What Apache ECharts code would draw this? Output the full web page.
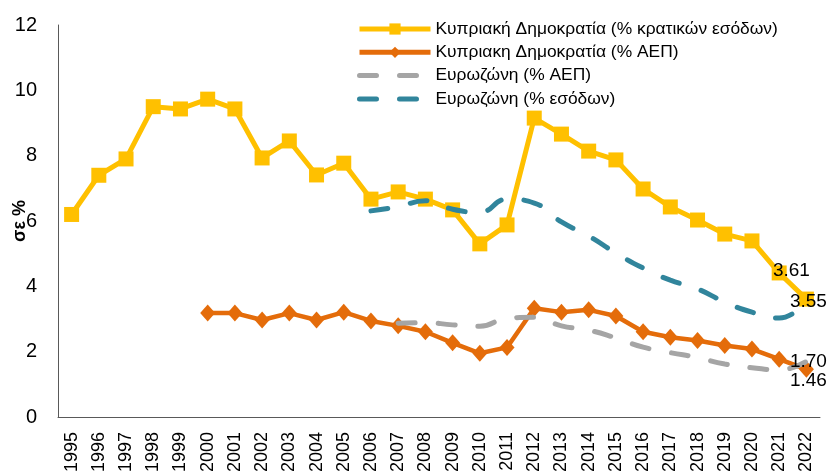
<!DOCTYPE html>
<html>
<head>
<meta charset="utf-8">
<script src="https://cdn.jsdelivr.net/npm/echarts@6/dist/echarts.min.js"></script>
<style>
  html, body { margin: 0; padding: 0; background: #fff; }
  #chart { width: 831px; height: 474px; }
</style>
</head>
<body>
<div id="chart"></div>
<script>
// years on the x axis
var years = ['1995','1996','1997','1998','1999','2000','2001','2002','2003','2004','2005','2006','2007','2008',
  '2009','2010','2011','2012','2013','2014','2015','2016','2017','2018','2019','2020','2021','2022'];

// Κυπριακή Δημοκρατία (% κρατικών εσόδων)
var cyRevenue = [6.2, 7.4, 7.9, 9.5, 9.43, 9.73, 9.43, 7.93, 8.45, 7.41, 7.77, 6.67, 6.89, 6.67,
  6.34, 5.3, 5.88, 9.15, 8.66, 8.14, 7.87, 6.98, 6.43, 6.03, 5.6, 5.39, 4.41, 3.61];
// Κυπριακη Δημοκρατία (% ΑΕΠ)
var cyGdp = [null, null, null, null, null, 3.18, 3.18, 2.97, 3.18, 2.97, 3.21, 2.94, 2.79, 2.61,
  2.27, 1.95, 2.13, 3.33, 3.21, 3.28, 3.09, 2.61, 2.44, 2.34, 2.19, 2.08, 1.77, 1.46];
// Ευρωζώνη (% ΑΕΠ)
var ezGdp = [null, null, null, null, null, null, null, null, null, null, null, null, 2.87, 2.89,
  2.82, 2.78, 3.02, 3.05, 2.79, 2.66, 2.42, 2.14, 1.97, 1.82, 1.62, 1.51, 1.44, 1.70];
// Ευρωζώνη (% εσόδων)
var ezRevenue = [null, null, null, null, null, null, null, null, null, null, null, 6.31, 6.44, 6.62,
  6.36, 6.27, 6.67, 6.55, 5.97, 5.54, 5.02, 4.56, 4.19, 3.92, 3.52, 3.21, 3.03, 3.55];

var yTicks = { min: 0, max: 12, interval: 2 };

var FONT = 'Liberation Sans, Arial, sans-serif';

// put a value label on the last point only
function withEndLabel(arr, offset) {
  return arr.map(function (v, i) {
    if (i !== arr.length - 1) return v;
    return {
      value: v,
      label: {
        show: true,
        position: 'inside',
        offset: offset,
        formatter: function (p) { return p.value.toFixed(2); },
        color: '#000',
        fontSize: 19,
        fontFamily: FONT
      }
    };
  });
}

var chart = echarts.init(document.getElementById('chart'));

chart.setOption({
  animation: false,
  grid: { left: 58, right: 11, top: 25, bottom: 57, outerBoundsMode: 'none', containLabel: false },
  legend: {
    orient: 'vertical',
    left: 352,
    top: 15,
    itemWidth: 71,
    itemHeight: 14,
    itemGap: 5.3,
    lineStyle: { width: 5 },
    textStyle: { fontSize: 17.4, lineHeight: 18, fontFamily: FONT, color: '#000' },
    data: [
      { name: 'Κυπριακή Δημοκρατία (% κρατικών εσόδων)' },
      { name: 'Κυπριακη Δημοκρατία (% ΑΕΠ)' },
      { name: 'Ευρωζώνη (% ΑΕΠ)', itemStyle: { opacity: 0 } },
      { name: 'Ευρωζώνη (% εσόδων)', itemStyle: { opacity: 0 } }
    ]
  },
  xAxis: {
    type: 'category',
    data: years,
    boundaryGap: true,
    axisLine: { lineStyle: { color: '#595959', width: 1 } },
    axisTick: { show: false },
    axisLabel: { rotate: 90, fontSize: 18, fontFamily: FONT, color: '#000', margin: 15, interval: 0 }
  },
  yAxis: {
    type: 'value',
    min: yTicks.min,
    max: yTicks.max,
    interval: yTicks.interval,
    name: 'σε %',
    nameLocation: 'middle',
    nameGap: 29,
    nameMoveOverlap: false,
    nameTextStyle: { fontSize: 18, fontWeight: 'bold', fontFamily: FONT, color: '#000' },
    axisLine: { show: true, lineStyle: { color: '#595959', width: 1 } },
    axisTick: { show: false },
    splitLine: { show: false },
    axisLabel: { fontSize: 20, fontFamily: FONT, color: '#000', margin: 21 }
  },
  series: [
    {
      name: 'Κυπριακή Δημοκρατία (% κρατικών εσόδων)',
      type: 'line',
      symbol: 'rect',
      symbolSize: 15,
      data: withEndLabel(cyRevenue, [-15, -28]),
      lineStyle: { color: '#FFC000', width: 5 },
      itemStyle: { color: '#FFC000' },
      z: 3
    },
    {
      name: 'Κυπριακη Δημοκρατία (% ΑΕΠ)',
      type: 'line',
      symbol: 'diamond',
      symbolSize: [15, 17],
      data: withEndLabel(cyGdp, [2, 11]),
      lineStyle: { color: '#E46C0A', width: 4.5 },
      itemStyle: { color: '#E46C0A' },
      z: 3
    },
    {
      name: 'Ευρωζώνη (% ΑΕΠ)',
      type: 'line',
      smooth: true,
      showSymbol: true,
      symbol: 'circle',
      symbolSize: 0,
      data: withEndLabel(ezGdp, [2, 0]),
      lineStyle: { color: '#A5A5A5', width: 5, type: [17, 23], cap: 'round' },
      itemStyle: { color: '#A5A5A5' },
      z: 4
    },
    {
      name: 'Ευρωζώνη (% εσόδων)',
      type: 'line',
      smooth: true,
      showSymbol: true,
      symbol: 'circle',
      symbolSize: 0,
      data: withEndLabel(ezRevenue, [2, 1]),
      lineStyle: { color: '#31859C', width: 5, type: [17, 23], cap: 'round' },
      itemStyle: { color: '#31859C' },
      z: 4
    }
  ]
});
</script>
</body>
</html>
